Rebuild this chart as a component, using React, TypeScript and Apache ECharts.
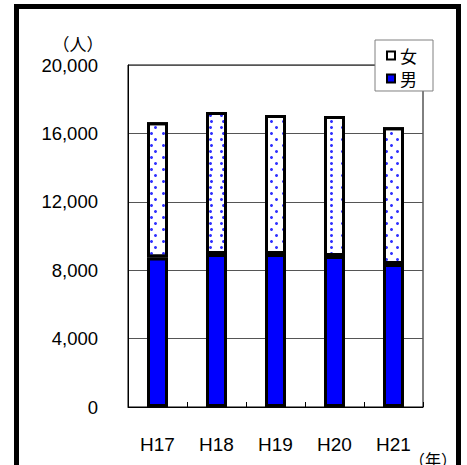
import React, { useEffect, useRef } from 'react';
import * as echarts from 'echarts';

const categories = ['H17', 'H18', 'H19', 'H20', 'H21'];
const male = [8750, 8950, 8950, 8830, 8360];
const female = [7900, 8300, 8130, 8190, 8000];
const yTicks = [0, 4000, 8000, 12000, 16000, 20000];
const seriesNames = ['男', '女'];
const yUnit = '（人）';
const xUnit = '（年）';

export default function App() {
  const ref = useRef<HTMLDivElement>(null);
  useEffect(() => {
    const chart = echarts.init(ref.current!, null, { renderer: 'svg' });
    const font = "'Liberation Sans', 'Noto Sans CJK JP', sans-serif";
    const cjk = "'Noto Sans CJK JP', sans-serif";
    chart.setOption({
      animation: false,
      backgroundColor: '#fff',
      grid: {
        left: 128, top: 65, right: 44, bottom: 58,
        show: true, borderColor: '#000', borderWidth: 1,
      },
      legend: {
        left: 375, top: 40,
        orient: 'vertical',
        backgroundColor: '#fff',
        borderColor: '#808080',
        borderWidth: 1,
        borderRadius: 0,
        padding: [7, 16, 4, 11],
        itemGap: 6,
        itemWidth: 8,
        itemHeight: 8,
        icon: 'rect',
        textStyle: { fontSize: 17, color: '#000', fontFamily: cjk },
        data: [
          { name: seriesNames[1], itemStyle: { color: '#fff', borderColor: '#000', borderWidth: 2, decal: 'none' } },
          { name: seriesNames[0], itemStyle: { color: '#0000ff', borderColor: '#000', borderWidth: 2 } },
        ],
      },
      xAxis: {
        type: 'category',
        data: categories,
        axisLine: { lineStyle: { color: '#000', width: 1 } },
        axisTick: { show: true, inside: true, length: 5, lineStyle: { color: '#000' } },
        axisLabel: { fontSize: 19, color: '#000', fontFamily: font, margin: 28 },
      },
      yAxis: {
        type: 'value',
        min: yTicks[0],
        max: yTicks[yTicks.length - 1],
        interval: yTicks[1] - yTicks[0],
        axisLine: { show: true, lineStyle: { color: '#000', width: 1 } },
        axisTick: { show: false },
        splitLine: { lineStyle: { color: '#555', width: 1 } },
        axisLabel: {
          fontSize: 18.5, color: '#000', fontFamily: font, margin: 30,
          formatter: (v: number) => v.toLocaleString('en-US'),
        },
      },
      series: [
        {
          name: seriesNames[0],
          type: 'bar',
          stack: 'total',
          data: male,
          barWidth: 21,
          itemStyle: { color: '#0000ff', borderColor: '#000', borderWidth: 3 },
        },
        {
          name: seriesNames[1],
          type: 'bar',
          stack: 'total',
          data: female,
          barWidth: 21,
          itemStyle: {
            color: '#ffffff',
            borderColor: '#000',
            borderWidth: 3,
            decal: {
              symbol: 'circle',
              symbolSize: 1,
              color: '#3030ff',
              dashArrayX: [[3, 8], [0, 5.5, 3, 2.5]],
              dashArrayY: [3, 2.5],
              rotation: 0,
            },
          },
        },
      ],
      graphic: [
        { type: 'rect', shape: { x: 14, y: 4, width: 447, height: 5 }, style: { fill: '#000' }, silent: true },
        { type: 'rect', shape: { x: 14, y: 4, width: 5, height: 470 }, style: { fill: '#000' }, silent: true },
        { type: 'rect', shape: { x: 456, y: 4, width: 5, height: 470 }, style: { fill: '#000' }, silent: true },
        {
          type: 'text', x: 78, y: 43,
          style: { text: yUnit, fontSize: 17, fill: '#000', fontFamily: cjk, align: 'center', verticalAlign: 'middle' },
        },
        {
          type: 'text', x: 409, y: 459,
          style: { text: xUnit, fontSize: 16, fill: '#000', fontFamily: cjk, align: 'left', verticalAlign: 'middle' },
        },
      ],
    });
    return () => chart.dispose();
  }, []);
  return <div ref={ref} style={{ position: 'fixed', left: 0, top: 0, width: 467, height: 465 }} />;
}
